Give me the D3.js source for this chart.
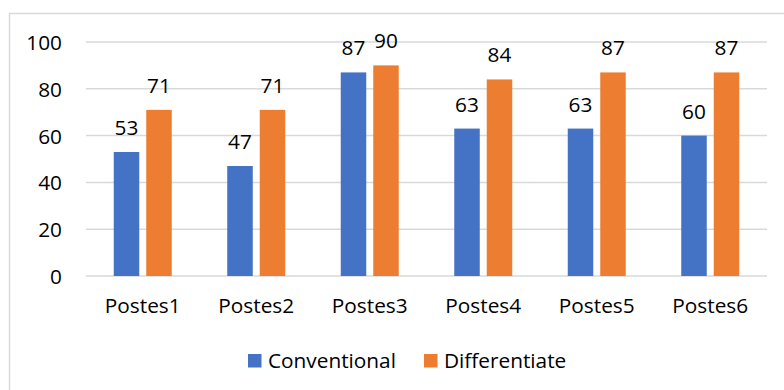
<!DOCTYPE html>
<html>
<head>
<meta charset="utf-8">
<script src="https://cdn.jsdelivr.net/npm/d3@7"></script>
<style>
  html, body { margin: 0; padding: 0; background: #fff; }
  svg { display: block; }
  text { font-family: "Open Sans", sans-serif; fill: #000; }
</style>
</head>
<body>
<svg id="chart" width="784" height="390"></svg>
<script>
// Scores per post, two teaching approaches
const categories = ["Postes1", "Postes2", "Postes3", "Postes4", "Postes5", "Postes6"];
const seriesNames = ["Conventional", "Differentiate"];
const conventional = [53, 47, 87, 63, 63, 60];
const differentiate = [71, 71, 90, 84, 87, 87];
const yTicks = [0, 20, 40, 60, 80, 100];
const colors = ["#4472C4", "#ED7D31"];

const seriesValues = [conventional, differentiate];
const fontSize = 20.8;

const svg = d3.select("#chart");
const W = 784, H = 390;

// Frame around the chart area (runs past the right and bottom edges)
svg.append("rect")
  .attr("x", 9.5).attr("y", 13.5)
  .attr("width", W + 20).attr("height", H + 20)
  .attr("fill", "none").attr("stroke", "#d9d9d9").attr("stroke-width", 1.5);

const plot = { left: 86, right: 767, top: 42, bottom: 276 };

const y = d3.scaleLinear().domain([0, 100]).range([plot.bottom, plot.top]);
const x0 = d3.scaleBand().domain(categories).range([plot.left, plot.right]).padding(0);
const groupPad = 27.75;
const x1 = d3.scaleBand().domain(seriesNames)
  .range([groupPad, x0.bandwidth() - groupPad])
  .paddingInner(0.215).paddingOuter(0);

// Gridlines
svg.append("g")
  .selectAll("line")
  .data(yTicks)
  .join("line")
  .attr("x1", plot.left).attr("x2", plot.right)
  .attr("y1", d => y(d)).attr("y2", d => y(d))
  .attr("stroke", "#d9d9d9").attr("stroke-width", 1.5);

// Value axis labels
const yAxis = d3.axisLeft(y).tickValues(yTicks).tickSize(0).tickPadding(0);
const yg = svg.append("g").attr("transform", `translate(62,0)`).call(yAxis);
yg.select(".domain").remove();
yg.selectAll("text")
  .attr("font-size", fontSize)
  .attr("font-family", "'Open Sans', sans-serif")
  .attr("fill", "#000")
  .attr("dy", "0.36em");

// Bars grouped by post
const groups = svg.append("g")
  .selectAll("g")
  .data(categories)
  .join("g")
  .attr("transform", d => `translate(${x0(d)},0)`);

const barData = (c, i) => seriesNames.map((s, k) => ({ s, k, v: seriesValues[k][i] }));

groups.selectAll("rect")
  .data(barData)
  .join("rect")
  .attr("x", d => x1(d.s))
  .attr("width", x1.bandwidth())
  .attr("y", d => y(d.v))
  .attr("height", d => y(0) - y(d.v))
  .attr("fill", d => colors[d.k]);

groups.selectAll("text.val")
  .data(barData)
  .join("text")
  .attr("class", "val")
  .attr("x", d => x1(d.s) + x1.bandwidth() / 2)
  .attr("y", d => y(d.v) - 17)
  .attr("text-anchor", "middle")
  .attr("font-size", fontSize)
  .text(d => d.v);

// Category axis labels
const xAxis = d3.axisBottom(x0).tickSize(0).tickPadding(0);
const xg = svg.append("g").attr("transform", `translate(0,${plot.bottom})`).call(xAxis);
xg.select(".domain").remove();
xg.selectAll("text")
  .attr("font-size", fontSize)
  .attr("font-family", "'Open Sans', sans-serif")
  .attr("fill", "#000")
  .attr("dy", null)
  .attr("y", 37);

// Legend
const legendX = [248, 424];
const legend = svg.append("g")
  .selectAll("g")
  .data(seriesNames)
  .join("g")
  .attr("transform", (d, i) => `translate(${legendX[i]},354)`);
legend.append("rect")
  .attr("width", 13.5).attr("height", 13.5)
  .attr("fill", (d, i) => colors[i]);
legend.append("text")
  .attr("x", 20).attr("y", 13.5)
  .attr("font-size", fontSize)
  .text(d => d);
</script>
</body>
</html>
